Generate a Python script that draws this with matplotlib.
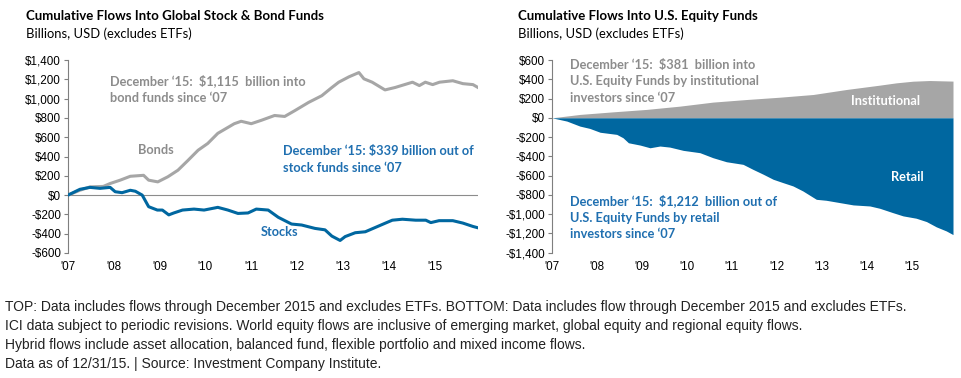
"""Cumulative fund flows: global stock & bond funds vs U.S. equity funds (ICI)."""
import matplotlib
matplotlib.use("Agg")
import matplotlib.pyplot as plt
import numpy as np

# ---- data (billions USD, x = years since Jan 2007) ----
bond_t = [0, 0.26, 0.48, 0.77, 0.92, 1.14, 1.36, 1.65, 1.76, 1.96, 2.18, 2.40, 2.62,
          2.84, 3.05, 3.27, 3.63, 3.78, 4.00, 4.22, 4.51, 4.73, 4.95, 5.25, 5.54, 5.76,
          5.91, 6.13, 6.35, 6.46, 6.64, 6.92, 7.14, 7.52, 7.67, 7.80, 7.96, 8.11, 8.40,
          8.62, 8.84, 8.95]
bond_v = [0, 50, 85, 90, 120, 155, 195, 205, 155, 137, 190, 258, 360,
          465, 535, 640, 740, 765, 740, 775, 825, 815, 875, 960, 1030, 1115,
          1170, 1225, 1270, 1205, 1170, 1090, 1115, 1170, 1135, 1170, 1145, 1170, 1185,
          1155, 1145, 1115]

stock_t = [0, 0.26, 0.48, 0.70, 0.92, 1.03, 1.18, 1.36, 1.47, 1.62, 1.76, 1.95, 2.06,
           2.20, 2.31, 2.50, 2.75, 2.97, 3.27, 3.49, 3.71, 3.93, 4.11, 4.37, 4.59, 4.88,
           5.10, 5.39, 5.61, 5.76, 5.94, 6.05, 6.27, 6.49, 6.71, 6.93, 7.08, 7.30, 7.59,
           7.81, 7.92, 8.10, 8.40, 8.62, 8.84, 8.95]
stock_v = [0, 60, 80, 70, 80, 35, 25, 50, 40, 0, -120, -155, -155,
           -205, -185, -155, -145, -155, -127, -155, -190, -185, -145, -155, -230, -300,
           -310, -345, -360, -425, -470, -430, -390, -380, -335, -290, -260, -250, -260,
           -260, -285, -265, -265, -290, -325, -339]

inst_t = [0, 0.62, 1.36, 2.10, 2.84, 3.58, 4.33, 5.07, 5.81, 6.55, 7.29, 7.66, 8.03,
          8.40, 8.92]
inst_v = [0, 35, 62, 87, 121, 163, 190, 214, 242, 294, 339, 363, 380, 387, 381]

retail_t = [0, 0.33, 0.62, 0.84, 1.07, 1.44, 1.58, 1.70, 1.96, 2.18, 2.40, 2.62, 2.92,
            3.29, 3.58, 3.88, 4.25, 4.47, 4.70, 4.92, 5.14, 5.36, 5.58, 5.88, 6.10, 6.40,
            6.70, 7.07, 7.29, 7.58, 7.81, 8.10, 8.33, 8.55, 8.77, 8.92]
retail_v = [0, -34, -86, -110, -150, -172, -207, -259, -283, -311, -293, -304, -338,
            -362, -414, -456, -483, -535, -586, -638, -673, -707, -759, -846, -856, -880,
            -904, -915, -939, -984, -1018, -1042, -1077, -1132, -1174, -1212]

years = list(range(2007, 2016))
year_labels = ["'07", "'08", "'09", "'10", "'11", "'12", "'13", "'14", "'15"]
left_ticks = list(range(-600, 1401, 200))
right_ticks = list(range(-1400, 601, 200))

BLUE = "#0067a0"
BLUE_TXT = "#1f6fb0"
GREY = "#a6a6a6"
GREY_TXT = "#8c8c8c"
TITLE_FONT = "Lato"
TICK_FONT = "Liberation Sans"


def money(v):
    s = f"${abs(v):,}"
    return "-" + s if v < 0 else s


def style_axis(ax, ticks, ylim, xmax):
    ax.set_ylim(*ylim)
    ax.set_xlim(2007, xmax)
    ax.set_yticks(ticks)
    ax.set_yticklabels([money(v) for v in ticks], fontsize=8.4, family=TICK_FONT)
    ax.set_xticks(years)
    ax.set_xticklabels(year_labels, fontsize=8.4, family=TICK_FONT)
    ax.tick_params(axis="x", length=0, pad=6)
    ax.tick_params(axis="y", length=3, width=0.8, color="#7f7f7f", pad=2)
    for s in ("top", "right", "bottom"):
        ax.spines[s].set_visible(False)
    ax.spines["left"].set_color("#7f7f7f")
    ax.spines["left"].set_linewidth(0.8)


fig = plt.figure(figsize=(9.61, 3.78), dpi=100)

# ---- left panel ----
ax1 = fig.add_axes([68 / 961, 1 - 253 / 378, 410 / 961, 193 / 378])
style_axis(ax1, left_ticks, (-600, 1400), 2015.95)
ax1.axhline(0, color="#8c8c8c", lw=0.8, zorder=1)
ax1.plot(2007 + np.array(bond_t), bond_v, color=GREY, lw=2.2, zorder=3)
ax1.plot(2007 + np.array(stock_t), stock_v, color=BLUE, lw=2.2, zorder=4)

tkw = dict(family=TITLE_FONT, fontweight="bold", fontsize=9.2, va="center")
ax1.text(2007.92, 1100, "December \u201815:  $1,115  billion into\nbond funds since \u201807",
         color=GREY_TXT, linespacing=1.45, **tkw)
ax1.text(2008.52, 470, "Bonds", color=GREY_TXT, **tkw)
ax1.text(2011.7, 370, "December \u201815: $339 billion out of\nstock funds since \u201807",
         color=BLUE_TXT, linespacing=1.45, **tkw)
ax1.text(2011.2, -385, "Stocks", color=BLUE_TXT, **tkw)

# ---- right panel ----
ax2 = fig.add_axes([552 / 961, 1 - 252.7 / 378, 401 / 961, 192.7 / 378])
style_axis(ax2, right_ticks, (-1400, 600), 2015.92)
ax2.fill_between(2007 + np.array(inst_t), 0, inst_v, color=GREY, lw=0, zorder=2)
ax2.fill_between(2007 + np.array(retail_t), 0, retail_v, color=BLUE, lw=0, zorder=2)

ax2.text(2007.4, 380, "December \u201815:  $381  billion into\nU.S. Equity Funds by institutional\n"
         "investors since \u201807", color=GREY_TXT, linespacing=1.45, **tkw)
ax2.text(2013.65, 170, "Institutional", color="white", **tkw)
ax2.text(2014.53, -610, "Retail", color="white", **tkw)
ax2.text(2007.4, -1030, "December \u201815:  $1,212  billion out of\nU.S. Equity Funds by retail\n"
         "investors since \u201807", color=BLUE_TXT, linespacing=1.45, **tkw)

# ---- titles ----
for x, title in ((26, "Cumulative Flows Into Global Stock & Bond Funds"),
                 (518, "Cumulative Flows Into U.S. Equity Funds")):
    fig.text(x / 961, 1 - 16 / 378, title, family=TITLE_FONT, fontweight="bold",
             fontsize=9.5, va="center", ha="left", color="black")
    fig.text(x / 961, 1 - 34 / 378, "Billions, USD (excludes ETFs)", family=TITLE_FONT,
             fontsize=9.4, va="center", ha="left", color="black")

# ---- footnotes ----
notes = [
    "TOP: Data includes flows through December 2015 and excludes ETFs. BOTTOM: Data includes flow through December 2015 and excludes ETFs.",
    "ICI data subject to periodic revisions. World equity flows are inclusive of emerging market, global equity and regional equity flows.",
    "Hybrid flows include asset allocation, balanced fund, flexible portfolio and mixed income flows.",
    "Data as of 12/31/15. | Source: Investment Company Institute.",
]
for i, line in enumerate(notes):
    fig.text(5 / 961, 1 - (307 + 19 * i) / 378, line, family=TICK_FONT,
             fontsize=10.0, va="center", ha="left", color="#222222")

fig.savefig("out.png", dpi=100, facecolor="white")
